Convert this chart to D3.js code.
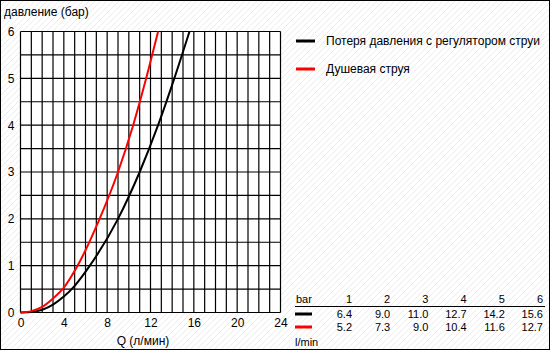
<!DOCTYPE html>
<html>
<head>
<meta charset="utf-8">
<script src="https://cdn.jsdelivr.net/npm/d3@7"></script>
<style>
  body { margin: 0; background: #fff; }
  text { font-family: "Liberation Sans", Arial, sans-serif; fill: #000; }
</style>
</head>
<body>
<svg id="chart" width="550" height="350"></svg>
<script>
//Values
const xTicks = [0, 4, 8, 12, 16, 20, 24];
const yTicks = [0, 1, 2, 3, 4, 5, 6];
const seriesNames = ["Потеря давления с регулятором струи", "Душевая струя"];
const seriesColors = ["#000000", "#ff0000"];
//flow (l/min) and pressure (bar) points of each curve
const blackQ = [0, 1, 2, 3, 4, 5, 6.4, 9.0, 11.0, 12.7, 14.2, 15.6];
const blackP = [0, 0.01, 0.06, 0.17, 0.34, 0.57, 1, 2, 3, 4, 5, 6];
const redQ = [0, 1, 2, 3, 4, 5.2, 7.3, 9.0, 10.4, 11.6, 12.7];
const redP = [0, 0.03, 0.12, 0.3, 0.53, 0.97, 2, 3, 4, 5, 6];
//table
const tableBars = ["1", "2", "3", "4", "5", "6"];
const tableBlack = ["6.4", "9.0", "11.0", "12.7", "14.2", "15.6"];
const tableRed = ["5.2", "7.3", "9.0", "10.4", "11.6", "12.7"];

const plotLeft = 20.5, plotRight = 280.5, plotTop = 31.5, plotBottom = 312.5;

var svg = d3.select("#chart");

//faint diagonal hatch background
var defs = svg.append("defs");
var pat = defs.append("pattern")
    .attr("id", "hatch")
    .attr("patternUnits", "userSpaceOnUse")
    .attr("width", 6).attr("height", 6);
pat.append("path")
    .attr("d", "M0,6 L6,0 M-1,1 L1,-1 M5,7 L7,5")
    .attr("stroke", "#ececec")
    .attr("stroke-width", 1);
svg.append("rect").attr("width", 550).attr("height", 350).attr("fill", "#fff");
svg.append("rect").attr("width", 550).attr("height", 350).attr("fill", "url(#hatch)");

var x = d3.scaleLinear().domain([0, 24]).range([plotLeft, plotRight]);
var y = d3.scaleLinear().domain([0, 6]).range([plotBottom, plotTop]);

//white plot area then grid
svg.append("rect")
    .attr("x", plotLeft).attr("y", plotTop)
    .attr("width", plotRight - plotLeft).attr("height", plotBottom - plotTop)
    .attr("fill", "#fff");

var grid = svg.append("g").attr("stroke", "#000").attr("stroke-width", 1.2);
grid.selectAll(".vl")
    .data(d3.range(0, 25))
    .enter().append("line")
    .attr("x1", d => x(d)).attr("x2", d => x(d))
    .attr("y1", plotTop).attr("y2", plotBottom);
grid.selectAll(".hl")
    .data(d3.range(0, 13).map(d => d / 2))
    .enter().append("line")
    .attr("y1", d => y(d)).attr("y2", d => y(d))
    .attr("x1", plotLeft).attr("x2", plotRight);

//axes labels
var xAxis = d3.axisBottom(x).tickValues(xTicks).tickFormat(d3.format("d")).tickSize(0).tickPadding(6);
svg.append("g")
    .attr("transform", "translate(0," + plotBottom + ")")
    .call(xAxis)
    .call(g => g.select(".domain").remove())
    .selectAll("text")
    .attr("font-size", 12)
    .attr("font-family", "Liberation Sans, Arial, sans-serif");

var yAxis = d3.axisLeft(y).tickValues(yTicks).tickFormat(d3.format("d")).tickSize(0).tickPadding(6);
svg.append("g")
    .attr("transform", "translate(" + plotLeft + ",0)")
    .call(yAxis)
    .call(g => g.select(".domain").remove())
    .selectAll("text")
    .attr("font-size", 12)
    .attr("font-family", "Liberation Sans, Arial, sans-serif");

svg.append("text")
    .attr("x", 4).attr("y", 16)
    .attr("font-size", 12)
    .text("давление (бар)");

svg.append("text")
    .attr("x", 143).attr("y", 345)
    .attr("text-anchor", "middle")
    .attr("font-size", 12)
    .text("Q (л/мин)");

//curves
var line = d3.line()
    .x(d => x(d[0]))
    .y(d => y(d[1]))
    .curve(d3.curveMonotoneX);

var curves = [d3.zip(blackQ, blackP), d3.zip(redQ, redP)];
svg.selectAll(".curve")
    .data(curves)
    .enter().append("path")
    .attr("fill", "none")
    .attr("stroke", (d, i) => seriesColors[i])
    .attr("stroke-width", 2)
    .attr("d", line);

//legend
var legend = svg.selectAll(".leg")
    .data(seriesNames)
    .enter().append("g")
    .attr("transform", (d, i) => "translate(296," + (41 + i * 28) + ")");
legend.append("line")
    .attr("x1", 0).attr("x2", 19)
    .attr("stroke", (d, i) => seriesColors[i])
    .attr("stroke-width", 3);
legend.append("text")
    .attr("x", 30).attr("y", 4)
    .attr("font-size", 12)
    .text(d => d);

//table
var colX = d3.scalePoint().domain(tableBars).range([352, 543]);
var tbl = svg.append("g").attr("font-size", 11);
tbl.append("text").attr("x", 296).attr("y", 303).attr("font-size", 11).text("bar");
tbl.selectAll(".hdr")
    .data(tableBars)
    .enter().append("text")
    .attr("x", d => colX(d)).attr("y", 303)
    .attr("text-anchor", "end").attr("font-size", 11)
    .text(d => d);
tbl.append("line")
    .attr("x1", 295).attr("x2", 545)
    .attr("y1", 306.5).attr("y2", 306.5)
    .attr("stroke", "#000").attr("stroke-width", 1);
[tableBlack, tableRed].forEach(function(row, r) {
    var ry = 314 + r * 13;
    tbl.append("line")
        .attr("x1", 295).attr("x2", 312)
        .attr("y1", ry).attr("y2", ry)
        .attr("stroke", seriesColors[r]).attr("stroke-width", 3);
    tbl.selectAll(".row" + r)
        .data(row)
        .enter().append("text")
        .attr("x", (d, i) => colX(tableBars[i])).attr("y", ry + 4)
        .attr("text-anchor", "end").attr("font-size", 11)
        .text(d => d);
});
tbl.append("text").attr("x", 295).attr("y", 346).attr("font-size", 11).text("l/min");

//frame
svg.append("rect")
    .attr("x", 0.5).attr("y", 0.5)
    .attr("width", 549).attr("height", 349)
    .attr("fill", "none").attr("stroke", "#000");
</script>
</body>
</html>
